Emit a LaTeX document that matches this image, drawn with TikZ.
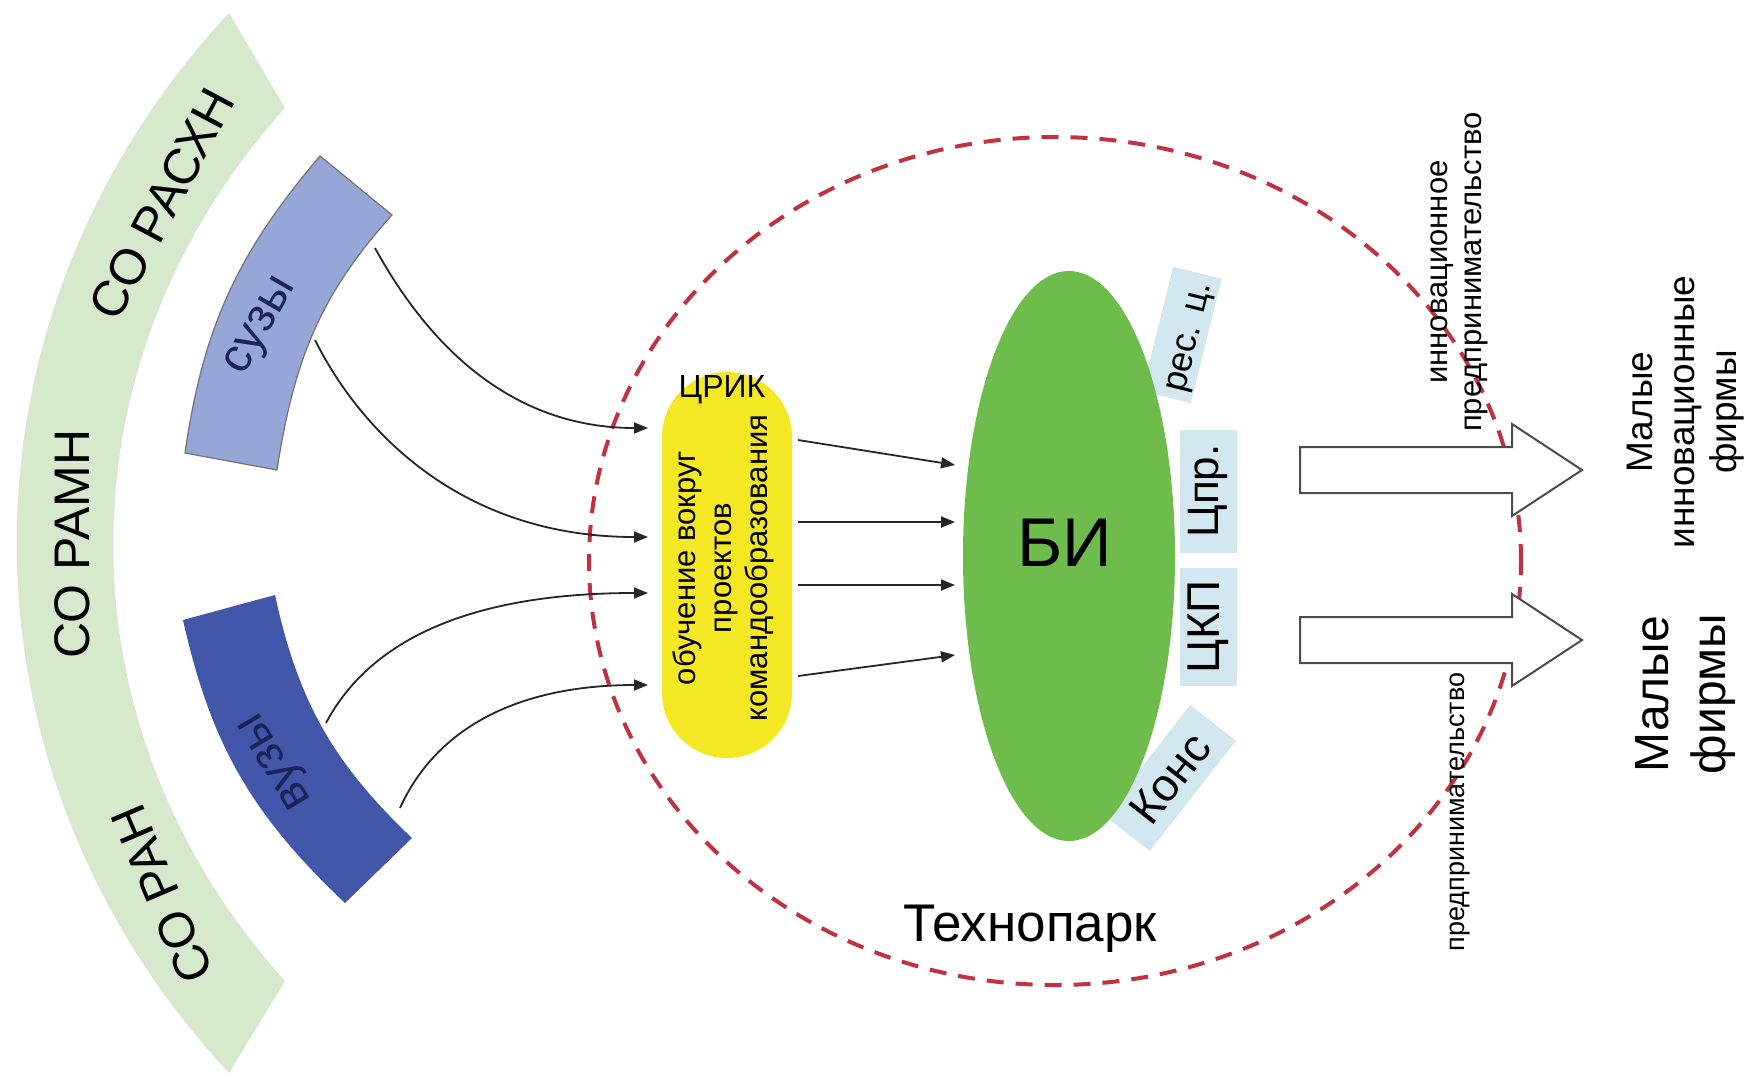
\documentclass[tikz,border=0pt]{standalone}
\usepackage{fontspec}
\setmainfont{Liberation Sans}
\usetikzlibrary{arrows.meta,shapes.geometric}
\definecolor{bandgreen}{RGB}{214,233,204}
\definecolor{suzyblue}{RGB}{150,166,214}
\definecolor{vuzyblue}{RGB}{66,86,170}
\definecolor{crikyellow}{RGB}{244,232,36}
\definecolor{bigreen}{RGB}{110,189,76}
\definecolor{lblblue}{RGB}{210,231,240}
\definecolor{parkred}{RGB}{192,50,66}
\definecolor{navytext}{RGB}{27,35,88}
\newcommand{\fsz}[1]{\fontsize{#1}{#1}\selectfont}
\begin{document}
\begin{tikzpicture}[x=1pt,y=-1pt,
  txt/.style={inner sep=0pt, align=center, text=black},
  flow/.style={draw=black!85, line width=1.8pt, -{Triangle[length=14pt,width=11pt]}},
  lblbox/.style={fill=lblblue, inner sep=0pt},
  blockarrow/.style={draw=black!70, line width=2pt, fill=white, line join=miter},
]
\useasboundingbox (0,0) rectangle (1752,1076);
\fill[white] (0,0) rectangle (1752,1076);

% outer green band
\fill[bandgreen] (229,13) -- (285,108) .. controls (56,362) and (56,727) .. (285,981) -- (229,1073) .. controls (-54,770) and (-54,316) .. (229,13) -- cycle;
\node[txt, rotate=62] (rasxn) at (162,204) {\fsz{50}СО РАСХН};
\node[txt, rotate=90] (ramn) at (72,544) {\fsz{50}СО РАМН};
\node[txt, rotate=113] (ran) at (162,894) {\fsz{50}СО РАН};

% suzy / vuzy
\filldraw[fill=suzyblue, draw=black!55, line width=1.2pt] (320,156) -- (392,215) .. controls (320,295) and (294,360) .. (277,470) -- (185,453) .. controls (203,328) and (237,253.5) .. (320,156) -- cycle;
\fill[vuzyblue] (183,620) -- (275,595) .. controls (298,701) and (333,763) .. (412,838) -- (345,903) .. controls (252,815) and (211,745) .. (183,620) -- cycle;
\node[txt, rotate=60, text=navytext] (suzy) at (263,327) {\fsz{48}сузы};
\node[txt, rotate=121, text=navytext] (vuzy) at (278,760) {\fsz{48}вузы};

% technopark
\node[ellipse, draw=parkred, line width=4pt, dash pattern=on 17pt off 12pt, minimum width=932pt, minimum height=848pt, inner sep=0pt] (tpark) at (1055,561) {};
\node[txt] (parkt) at (1030,929) {\fsz{53}Технопарк};

% curves to CRIK
\coordinate (s1) at (375,248);
\coordinate (s2) at (315,340);
\coordinate (s3) at (326,723);
\coordinate (s4) at (400,808);
\coordinate (t1) at (648,428);
\coordinate (t2) at (648,537);
\coordinate (t3) at (648,593);
\coordinate (t4) at (648,685);
\draw[flow] (s1) .. controls (420,330) and (500,428) .. (t1);
\draw[flow] (s2) .. controls (360,430) and (460,537) .. (t2);
\draw[flow] (s3) .. controls (370,640) and (470,593) .. (t3);
\draw[flow] (s4) .. controls (440,720) and (530,685) .. (t4);

% CRIK
\node[fill=crikyellow, rounded corners=65pt, minimum width=130pt, minimum height=386pt, inner sep=0pt] (crik) at (727,565) {};
\node[txt] (crikt) at (722,390) {\fsz{32}ЦРИК};
\node[txt, rotate=90, font=\fontsize{31}{36}\selectfont] (crikb) at (723,568) {обучение вокруг\\проектов\\командообразования};

% label boxes behind BI
\node[lblbox, rotate=76, minimum width=128pt, minimum height=50pt] (resbox) at (1182,335) {};
\node[lblbox, rotate=90, minimum width=123pt, minimum height=57pt] (cprbox) at (1208,491) {};
\node[lblbox, rotate=90, minimum width=118pt, minimum height=57pt] (ckpbox) at (1208,627) {};
\node[lblbox, rotate=52, minimum width=140pt, minimum height=58pt] (konsbox) at (1170,778) {};

% BI
\node[ellipse, fill=bigreen, minimum width=212pt, minimum height=570pt, inner sep=0pt] (bi) at (1069,556) {};
\node[txt] (bit) at (1065,543) {\fsz{69}БИ};

\node[txt, rotate=76] (res) at (1192,338) {\fsz{36}рес. ц.};
\node[txt, rotate=90] (cpr) at (1208,491) {\fsz{44}Цпр.};
\node[txt, rotate=90] (ckp) at (1208,627) {\fsz{46}ЦКП};
\node[txt, rotate=52] (kons) at (1170,778) {\fsz{46}Конс};

% arrows CRIK -> BI
\coordinate (r1) at (798,440);
\coordinate (r2) at (798,522);
\coordinate (r3) at (798,585);
\coordinate (r4) at (798,676);
\coordinate (e1) at (955,465);
\coordinate (e2) at (955,522);
\coordinate (e3) at (955,585);
\coordinate (e4) at (955,655);
\draw[flow] (r1) -- (e1);
\draw[flow] (r2) -- (e2);
\draw[flow] (r3) -- (e3);
\draw[flow] (r4) -- (e4);

% block arrows
\draw[blockarrow] (1300,447) -- (1512,447) -- (1512,424) -- (1582,470) -- (1512,516) -- (1512,493) -- (1300,493) -- cycle;
\draw[blockarrow] (1300,617) -- (1512,617) -- (1512,594) -- (1582,640) -- (1512,686) -- (1512,663) -- (1300,663) -- cycle;

% right texts
\node[txt, rotate=90, font=\fontsize{31}{34}\selectfont] (innov) at (1459,272) {инновационное\\предпринимательство};
\node[txt, rotate=90] (pred) at (1460,812) {\fsz{27}предпринимательство};
\node[txt, rotate=90, font=\fontsize{37}{42}\selectfont] (mif) at (1686,412) {Малые\\инновационные\\фирмы};
\node[txt, rotate=90, font=\fontsize{48}{57}\selectfont] (mf) at (1685,694) {Малые\\фирмы};
\end{tikzpicture}
\end{document}
